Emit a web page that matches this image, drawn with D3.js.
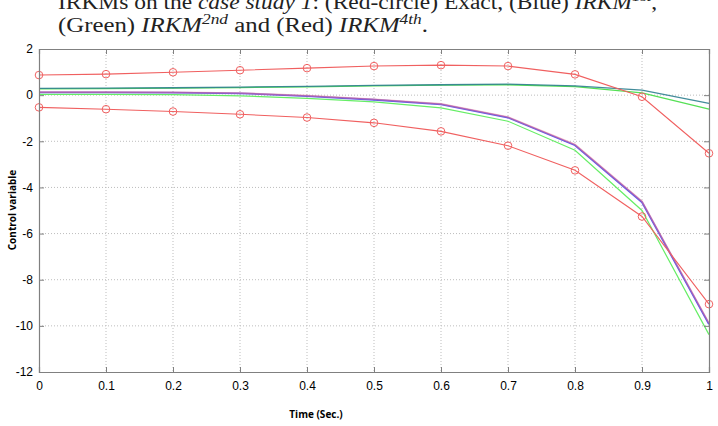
<!DOCTYPE html>
<html>
<head>
<meta charset="utf-8">
<script src="https://cdn.jsdelivr.net/npm/d3@7"></script>
<style>
  body { margin: 0; background: #fff; }
  svg { display: block; }
</style>
</head>
<body>
<div id="chart"></div>
<script>
var time = [0, 0.1, 0.2, 0.3, 0.4, 0.5, 0.6, 0.7, 0.8, 0.9, 1];

// exact solution (two control components)
var exactUpper = [0.87, 0.91, 0.99, 1.08, 1.17, 1.26, 1.3, 1.26, 0.9, -0.07, -2.52];
var exactLower = [-0.53, -0.61, -0.71, -0.83, -0.97, -1.2, -1.57, -2.19, -3.26, -5.26, -9.06];

// IRKM approximations
var irkm1Upper = [0.29, 0.3, 0.32, 0.35, 0.38, 0.42, 0.45, 0.48, 0.4, 0.22, -0.36];
var irkm2Upper = [0.27, 0.28, 0.3, 0.33, 0.36, 0.4, 0.43, 0.45, 0.37, 0.1, -0.61];
var irkm1Lower = [0.12, 0.12, 0.11, 0.08, -0.04, -0.2, -0.4, -0.97, -2.17, -4.64, -9.93];
var irkm4Lower = [0.13, 0.13, 0.12, 0.09, -0.02, -0.18, -0.38, -0.95, -2.14, -4.6, -9.88];
var irkm2Lower = [0.03, 0.03, 0.02, -0.03, -0.14, -0.29, -0.55, -1.13, -2.39, -5.0, -10.38];

var xTicks = [0, 0.1, 0.2, 0.3, 0.4, 0.5, 0.6, 0.7, 0.8, 0.9, 1];
var yTicks = [2, 0, -2, -4, -6, -8, -10, -12];

var margin = {top: 49, right: 9, bottom: 54, left: 39},
    width = 718 - margin.left - margin.right,
    height = 426 - margin.top - margin.bottom;

var root = d3.select("#chart")
  .append("svg")
    .attr("width", 718)
    .attr("height", 426);

// caption above the figure (top line is cut off in the source)
var cap1 = root.append("text")
  .attr("x", 58).attr("y", 9)
  .attr("textLength", 599)
  .attr("lengthAdjust", "spacingAndGlyphs")
  .style("font-family", "'Liberation Serif', 'DejaVu Serif', serif")
  .style("font-size", "20px")
  .attr("fill", "#222");
cap1.append("tspan").text("IRKMs on the ");
cap1.append("tspan").style("font-style", "italic").text("case study 1");
cap1.append("tspan").text(": (Red-circle) Exact, (Blue) ");
cap1.append("tspan").style("font-style", "italic").text("IRKM");
cap1.append("tspan").attr("dy", -8).style("font-size", "14px").style("font-style", "italic").text("1st");
cap1.append("tspan").attr("dy", 8).text(",");

var cap2 = root.append("text")
  .attr("x", 58).attr("y", 32)
  .attr("textLength", 370)
  .attr("lengthAdjust", "spacingAndGlyphs")
  .style("font-family", "'Liberation Serif', 'DejaVu Serif', serif")
  .style("font-size", "20px")
  .attr("fill", "#222");
cap2.append("tspan").text("(Green) ");
cap2.append("tspan").style("font-style", "italic").text("IRKM");
cap2.append("tspan").attr("dy", -8).style("font-size", "14px").style("font-style", "italic").text("2nd");
cap2.append("tspan").attr("dy", 8).text(" and (Red) ");
cap2.append("tspan").style("font-style", "italic").text("IRKM");
cap2.append("tspan").attr("dy", -8).style("font-size", "14px").style("font-style", "italic").text("4th");
cap2.append("tspan").attr("dy", 8).text(".");

var svg = root.append("g")
    .attr("transform", "translate(" + margin.left + "," + margin.top + ")");

var x = d3.scaleLinear()
  .domain([0, 1])
  .range([0, width]);

var y = d3.scaleLinear()
  .domain([-12, 2])
  .range([height, 0]);

// grid
svg.append("g")
  .selectAll("line")
  .data(xTicks.slice(1, -1))
  .enter()
  .append("line")
    .attr("x1", function(d) { return x(d); })
    .attr("x2", function(d) { return x(d); })
    .attr("y1", 0)
    .attr("y2", height)
    .attr("stroke", "#bdbdbd")
    .attr("stroke-dasharray", "1,2");

svg.append("g")
  .selectAll("line")
  .data(yTicks.slice(1, -1))
  .enter()
  .append("line")
    .attr("x1", 0)
    .attr("x2", width)
    .attr("y1", function(d) { return y(d); })
    .attr("y2", function(d) { return y(d); })
    .attr("stroke", "#bdbdbd")
    .attr("stroke-dasharray", "1,2");

// series
var line = d3.line()
  .x(function(d, i) { return x(time[i]); })
  .y(function(d) { return y(d); });

function drawLine(vals, color, w, op) {
  svg.append("path")
    .datum(vals)
    .attr("d", line)
    .attr("fill", "none")
    .attr("stroke", color)
    .attr("stroke-width", w)
    .attr("stroke-opacity", op);
}

drawLine(irkm2Upper, "#55e055", 1.3, 1);
drawLine(irkm1Upper, "#2f7f8f", 1.3, 0.9);
drawLine(irkm2Lower, "#66ee66", 1.2, 1);
drawLine(irkm1Lower, "#5a5aee", 1.8, 1);
drawLine(irkm4Lower, "#e56a8a", 1.6, 0.55);

[exactUpper, exactLower].forEach(function(vals) {
  drawLine(vals, "#f06060", 1.1, 1);
  svg.append("g")
    .selectAll("circle")
    .data(vals)
    .enter()
    .append("circle")
      .attr("cx", function(d, i) { return x(time[i]); })
      .attr("cy", function(d) { return y(d); })
      .attr("r", 3.8)
      .attr("fill", "none")
      .attr("stroke", "#f06060")
      .attr("stroke-width", 1);
});

// axes with inward ticks, box on all sides
var axisColor = "#808080";
var fontStyle = "font-family:'Liberation Sans', Arial, sans-serif;font-size:12px";
var fmt = function(d) { return String(d); };

var xAxis = svg.append("g")
  .attr("transform", "translate(0," + height + ")")
  .call(d3.axisBottom(x).tickValues(xTicks).tickSize(-5).tickPadding(9).tickFormat(fmt));
var yAxis = svg.append("g")
  .call(d3.axisLeft(y).tickValues(yTicks).tickSize(-5).tickPadding(6).tickFormat(fmt));
var xTop = svg.append("g")
  .call(d3.axisTop(x).tickValues(xTicks).tickSize(-5).tickFormat(""));
var yRight = svg.append("g")
  .attr("transform", "translate(" + width + ",0)")
  .call(d3.axisRight(y).tickValues(yTicks).tickSize(-5).tickFormat(""));

[xAxis, yAxis, xTop, yRight].forEach(function(a) {
  a.select(".domain").attr("stroke", axisColor).attr("stroke-width", 1.2);
  a.selectAll(".tick line").attr("stroke", axisColor);
  a.selectAll("text").attr("style", fontStyle).attr("fill", "#000");
});

// axis titles
root.append("text")
  .attr("x", 316)
  .attr("y", 418)
  .attr("text-anchor", "middle")
  .style("font-family", "'Open Sans', 'DejaVu Sans', sans-serif")
  .style("font-size", "10px")
  .style("font-weight", "bold")
  .text("Time (Sec.)");

root.append("text")
  .attr("transform", "translate(16,210)rotate(-90)")
  .attr("text-anchor", "middle")
  .style("font-family", "'Open Sans', 'DejaVu Sans', sans-serif")
  .style("font-size", "10px")
  .style("font-weight", "bold")
  .text("Control variable");
</script>
</body>
</html>
